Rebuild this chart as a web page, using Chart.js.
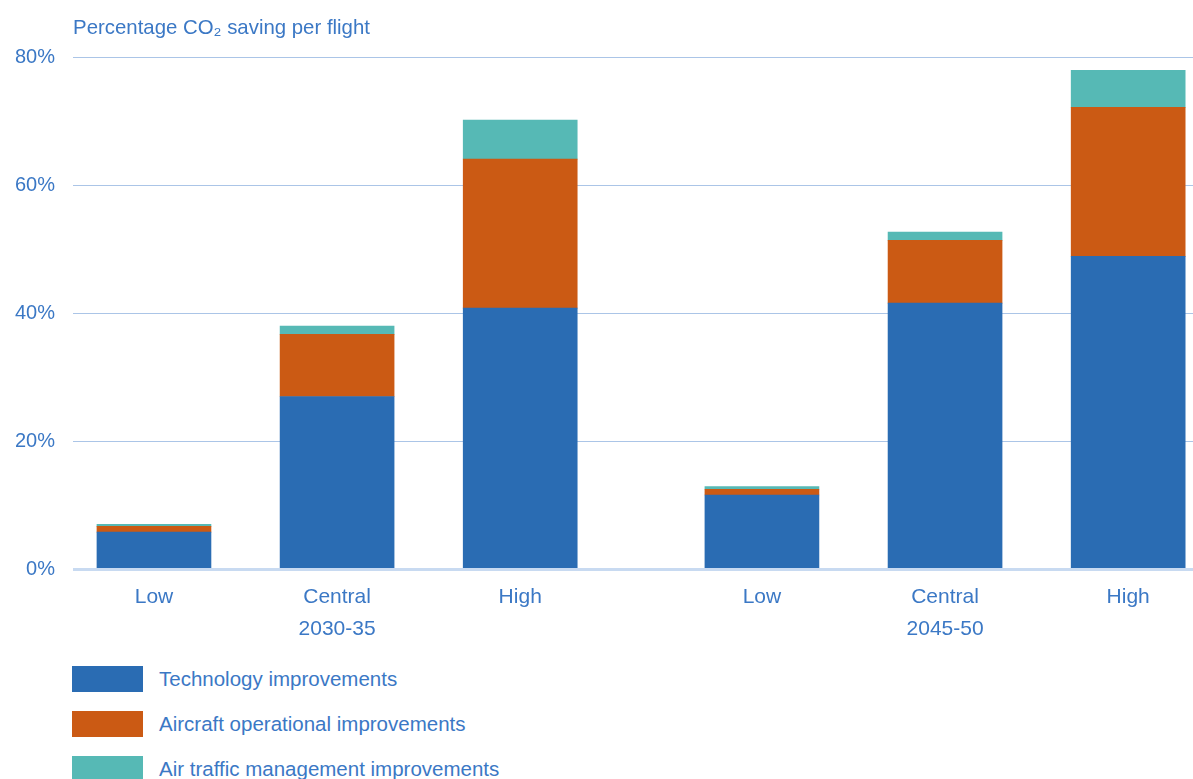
<!DOCTYPE html>
<html>
<head>
<meta charset="utf-8">
<script src="https://cdn.jsdelivr.net/npm/chart.js@4.4.1/dist/chart.umd.min.js"></script>
<style>
  body { margin: 0; background: #fff; font-family: "Liberation Sans", Arial, sans-serif; }
  #wrap { position: relative; width: 1193px; height: 649px; }
  #legend { position: absolute; left: 72px; top: 666px; }
  .item { display: flex; align-items: center; height: 26px; margin-bottom: 19px; }
  .swatch { width: 71px; height: 26px; margin-right: 16px; }
  .item span { color: #3b78c5; font-size: 20.5px; }
</style>
</head>
<body>
<div id="wrap"><canvas id="grafica"></canvas></div>
<div id="legend"></div>
<script>
// datos (% de ahorro de CO2 por vuelo, incrementos apilados)
const escenarios = ['Low', 'Central', 'High', 'Low', 'Central', 'High'];
const periodos = ['2030-35', '2045-50'];
const tecnologia = [5.8, 27.0, 40.8, 11.6, 41.6, 48.9];
const operacional = [0.9, 9.7, 23.3, 0.9, 9.8, 23.3];
const traficoAereo = [0.3, 1.3, 6.1, 0.4, 1.3, 5.8];
const ticksY = [0, 20, 40, 60, 80];

const series = [
  { label: 'Technology improvements', data: tecnologia, color: '#2a6cb3' },
  { label: 'Aircraft operational improvements', data: operacional, color: '#cb5a14' },
  { label: 'Air traffic management improvements', data: traficoAereo, color: '#56b9b5' }
];

const textoAzul = '#3b78c5';
const separacionGrupos = 0.32; // hueco extra entre los dos periodos
const posiciones = escenarios.map((e, i) => i + (i >= 3 ? separacionGrupos : 0));

Chart.defaults.font.family = '"Liberation Sans", Arial, sans-serif';
Chart.defaults.color = textoAzul;

const ctx = document.getElementById('grafica').getContext('2d');
new Chart(ctx, {
  type: 'bar',
  data: {
    datasets: series.map(s => ({
      label: s.label,
      data: s.data.map((v, i) => ({ x: posiciones[i], y: v })),
      backgroundColor: s.color,
      borderWidth: 0,
      barThickness: 114
    }))
  },
  options: {
    responsive: true,
    maintainAspectRatio: false,
    animation: false,
    layout: { padding: { left: -3, right: 0, top: 0, bottom: 0 } },
    plugins: {
      legend: { display: false },
      tooltip: { enabled: false },
      title: {
        display: true,
        text: 'Percentage CO₂ saving per flight',
        align: 'start',
        fullSize: false,
        color: textoAzul,
        font: { size: 20.4, weight: 'normal' },
        padding: { top: 16, bottom: 17 }
      }
    },
    scales: {
      x: {
        type: 'linear',
        stacked: true,
        offset: false,
        min: -0.442,
        max: 5.674,
        grid: { display: false },
        border: { display: false },
        afterBuildTicks: axis => { axis.ticks = posiciones.map(p => ({ value: p })); },
        ticks: {
          padding: 4,
          autoSkip: false,
          maxRotation: 0,
          font: { size: 21, lineHeight: 1.52 },
          callback: (v, i) => (i === 1 || i === 4) ? [escenarios[i], periodos[i === 1 ? 0 : 1]] : escenarios[i]
        }
      },
      y: {
        stacked: true,
        min: 0,
        max: 80,
        afterBuildTicks: axis => { axis.ticks = ticksY.map(v => ({ value: v })); },
        border: { display: false },
        grid: {
          drawTicks: false,
          color: c => c.tick && c.tick.value === 0 ? '#c8daf1' : '#abc5e7',
          lineWidth: c => c.tick && c.tick.value === 0 ? 3 : 1
        },
        ticks: {
          padding: 18,
          font: { size: 20 },
          callback: v => v + '%'
        }
      }
    }
  }
});

// leyenda vertical en HTML
const leyenda = document.getElementById('legend');
series.forEach(s => {
  const fila = document.createElement('div');
  fila.className = 'item';
  const caja = document.createElement('div');
  caja.className = 'swatch';
  caja.style.background = s.color;
  const txt = document.createElement('span');
  txt.textContent = s.label;
  fila.appendChild(caja);
  fila.appendChild(txt);
  leyenda.appendChild(fila);
});
</script>
</body>
</html>
